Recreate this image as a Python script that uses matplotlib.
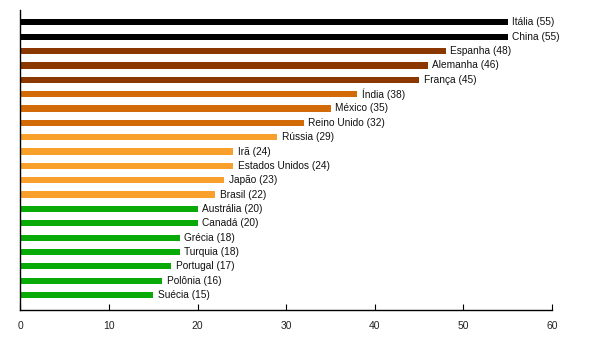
import matplotlib
matplotlib.use("Agg")
import matplotlib.pyplot as plt

# Países e valores, de cima para baixo
countries = [
    "Itália", "China", "Espanha", "Alemanha", "França", "Índia", "México",
    "Reino Unido", "Rússia", "Irã", "Estados Unidos", "Japão", "Brasil",
    "Austrália", "Canadá", "Grécia", "Turquia", "Portugal", "Polônia", "Suécia",
]
values = [55, 55, 48, 46, 45, 38, 35, 32, 29, 24, 24, 23, 22, 20, 20, 18, 18, 17, 16, 15]

# faixas de cor por grupo
BLACK, BROWN, ORANGE, LIGHT, GREEN = "#000000", "#8a3700", "#d36a08", "#f9a02c", "#08aa08"
colors = [BLACK] * 2 + [BROWN] * 3 + [ORANGE] * 3 + [LIGHT] * 5 + [GREEN] * 7

xticks = [0, 10, 20, 30, 40, 50, 60]

plt.rcParams["font.family"] = ["Liberation Sans", "DejaVu Sans"]

fig = plt.figure(figsize=(6.02, 3.4), dpi=100)
ax = fig.add_axes([0.034, 0.088, 0.883, 0.882])

ypos = list(range(len(countries)))
ax.barh(ypos, values, height=0.43, color=colors)

for y, v, name in zip(ypos, values, countries):
    ax.text(v + 0.5, y, f"{name} ({v})", va="center", ha="left",
            fontsize=7.3, color="#111111")

ax.set_ylim(len(countries) - 1 + 1.05, -0.85)
ax.set_xlim(0, 60)
ax.set_xticks(xticks)
ax.set_yticks([])
ax.tick_params(axis="x", direction="in", length=4, labelsize=7.5, pad=8,
               labelcolor="#222222")

for side in ("top", "right"):
    ax.spines[side].set_visible(False)
for side in ("left", "bottom"):
    ax.spines[side].set_linewidth(1.0)

fig.savefig("out.png", dpi=100)
